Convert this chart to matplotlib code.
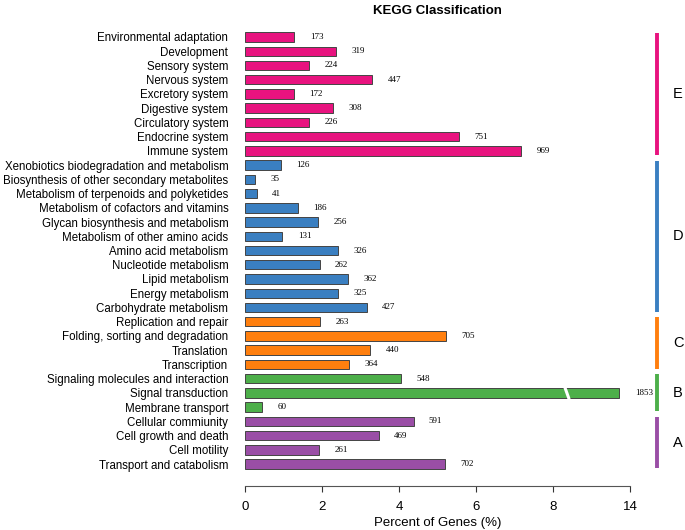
import matplotlib.pyplot as plt

categories = [
    "Environmental adaptation", "Development", "Sensory system", "Nervous system",
    "Excretory system", "Digestive system", "Circulatory system", "Endocrine system",
    "Immune system",
    "Xenobiotics biodegradation and metabolism", "Biosynthesis of other secondary metabolites",
    "Metabolism of terpenoids and polyketides", "Metabolism of cofactors and vitamins",
    "Glycan biosynthesis and metabolism", "Metabolism of other amino acids",
    "Amino acid metabolism", "Nucleotide metabolism", "Lipid metabolism",
    "Energy metabolism", "Carbohydrate metabolism",
    "Replication and repair", "Folding, sorting and degradation", "Translation", "Transcription",
    "Signaling molecules and interaction", "Signal transduction", "Membrane transport",
    "Cellular commiunity", "Cell growth and death", "Cell motility", "Transport and catabolism",
]
counts = [173, 319, 224, 447, 172, 308, 226, 751, 969,
          126, 35, 41, 186, 256, 131, 326, 262, 362, 325, 427,
          263, 705, 440, 364,
          548, 1853, 60,
          591, 469, 261, 702]
total_genes = 13500

groups = ["E", "D", "C", "B", "A"]
group_sizes = [9, 11, 4, 3, 4]
group_colors = ["#E8137F", "#3A7FC1", "#FF7F0E", "#4DAF4A", "#9A4EA6"]

xticks = [0, 2, 4, 6, 8, 14]
break_at = 8
break_gap = 4  # 14 is drawn where 10 would be

percent = [c / total_genes * 100 for c in counts]


def to_axis(v):
    return v if v <= break_at else v - break_gap


colors = []
for g, n in zip(group_colors, group_sizes):
    colors += [g] * n

fig = plt.figure(figsize=(6.85, 5.3), dpi=100)
ax = fig.add_axes([245 / 685, 1 - 485.7 / 530, (630 - 245) / 685, (485.7 - 28) / 530])

y = list(range(len(categories)))
widths = [to_axis(p) for p in percent]
ax.barh(y, widths, height=0.66, color=colors, edgecolor="#444444", linewidth=0.7)

for yi, w, c in zip(y, widths, counts):
    ax.text(w + 0.4, yi, str(c), va="center", ha="left", fontsize=6.5,
            family="Liberation Serif")

# break mark on the long bar
for yi, p in zip(y, percent):
    if p > break_at:
        ax.plot([8.3, 8.42], [yi - 0.45, yi + 0.45], color="white", lw=2.2,
                solid_capstyle="butt", zorder=5)

ax.set_ylim(len(categories) - 1 + 1.52, -0.63)
ax.set_xlim(0, to_axis(xticks[-1]))
ax.set_yticks(y)
ax.set_yticklabels(categories, fontsize=8.3, family="Liberation Sans")
ax.tick_params(axis="y", length=0, pad=12)
ax.set_xticks([to_axis(t) for t in xticks])
ax.set_xticklabels([str(t) for t in xticks], fontsize=9.5, family="Liberation Sans")
ax.tick_params(axis="x", colors="#333333", length=4, width=0.8, pad=7)
for t in ax.get_xticklabels():
    t.set_color("black")
for s in ["left", "right", "top"]:
    ax.spines[s].set_visible(False)
ax.spines["bottom"].set_color("#555555")
ax.spines["bottom"].set_linewidth(0.8)
ax.set_xlabel("Percent of Genes (%)", fontsize=9.5, family="Liberation Sans", labelpad=3)
ax.set_title("KEGG Classification", fontsize=9.5, fontweight="bold",
             family="Liberation Sans", pad=10)

# group brackets on the right
start = 0
for g, n, col in zip(groups, group_sizes, group_colors):
    top = start - 0.3
    bot = start + n - 1 + 0.3
    ax.plot([10.7, 10.7], [top, bot], color=col, lw=2.8, clip_on=False,
            solid_capstyle="butt")
    ax.text(11.25, (top + bot) / 2, g, fontsize=10.5, va="center", ha="center",
            family="Liberation Sans", clip_on=False)
    start += n

fig.savefig("out.png", dpi=100)
